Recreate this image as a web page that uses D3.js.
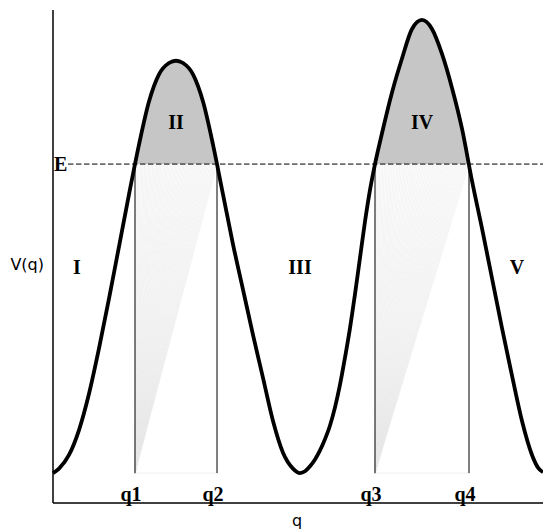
<!DOCTYPE html>
<html>
<head>
<meta charset="utf-8">
<script src="https://cdn.jsdelivr.net/npm/d3@7"></script>
<style>
  body { margin: 0; background: #fff; }
  .roman { font-family: "Liberation Serif", "Times New Roman", serif; font-weight: bold; font-size: 20px; }
  .axis-text { font-family: "DejaVu Sans", sans-serif; font-size: 16px; }
</style>
</head>
<body>
<div class="chart"></div>
<script>
// potential curve (q, V)
var qValues = [0, 0.6, 1.6, 2.6, 3.6, 4.6, 5.6, 6.6, 7.6, 8.6, 9.6, 10.6, 11.6, 12.3,
               13.0, 14.0, 15.0, 16.0, 17.0, 18.0, 19.0, 20.0, 21.0, 22.0, 23.0, 24.0, 24.7,
               25.2, 25.7, 26.2, 26.7, 27.2, 27.7, 28.2, 28.7, 29.2, 29.7, 30.2, 30.7, 31.2, 31.7, 32.2,
               32.9, 33.9, 34.9, 35.9, 36.9,
               37.9, 38.9, 39.9, 40.9, 41.9, 42.9, 43.9, 44.9, 45.9, 46.9, 47.9, 48.5, 49.0];
var vValues = [0, 1.0, 4.0, 9.5, 17.5, 27.5, 38.5, 50.0, 61.5, 72.5, 82.0, 88.0, 90.5, 91.0,
               90.5, 88.0, 82.0, 72.5, 61.5, 50.5, 40.5, 30.5, 21.0, 11.5, 4.5, 1.0, 0,
               0.4, 1.5, 3.0, 5.0, 7.5, 10.5, 14.5, 19.5, 25.5, 32.0, 39.5, 47.5, 55.5, 62.5, 68.2,
               75.0, 84.0, 91.5, 98.0, 100,
               98.0, 92.5, 85.0, 76.0, 64.5, 54.0, 43.0, 32.0, 21.5, 11.5, 4.0, 1.2, 0.2];

// energy level and turning points
var energy = 68.2;
var turnNames = ["q1", "q2", "q3", "q4"];
var turnPoints = [8.2, 16.4, 32.2, 41.6];

// region labels
var regionNames = ["I", "II", "III", "IV", "V"];
var regionQ = [2.4, 12.3, 24.7, 36.9, 46.4];
var regionV = [44, 76, 44, 76, 44];

var data = qValues.map(function(q, i) { return { q: q, v: vValues[i] }; });

var svgWidth = 543, svgHeight = 531;

var x = d3.scaleLinear().domain([0, 49]).range([53, 543]);
var y = d3.scaleLinear().domain([-6.6, 102.2]).range([503, 10]);

var svg = d3.select(".chart").append("svg")
  .attr("width", svgWidth)
  .attr("height", svgHeight);

var lineGen = d3.line()
  .x(d => x(d.q))
  .y(d => y(d.v))
  .curve(d3.curveMonotoneX);

// shaded barrier regions (curve above E)
svg.append("clipPath").attr("id", "aboveE")
  .append("rect")
  .attr("x", 0).attr("y", 0)
  .attr("width", svgWidth).attr("height", y(energy));

var areaGen = d3.area()
  .x(d => x(d.q))
  .y0(y(energy))
  .y1(d => y(d.v))
  .curve(d3.curveMonotoneX);

svg.append("path")
  .datum(data)
  .attr("d", areaGen)
  .attr("clip-path", "url(#aboveE)")
  .attr("fill", "#c6c6c6");

// faint fans below the barriers
[[0, 1], [2, 3]].forEach(function(pair) {
  var qa = turnPoints[pair[0]], qb = turnPoints[pair[1]];
  var steps = d3.range(0, 61).map(i => qa + (qb - qa) * i / 60);
  svg.append("g").selectAll("line")
    .data(steps)
    .enter()
    .append("line")
    .attr("x1", x(qa)).attr("y1", y(0))
    .attr("x2", d => x(d)).attr("y2", y(energy))
    .attr("stroke", "#e8e8e8")
    .attr("stroke-width", 0.5);
  svg.append("line")
    .attr("x1", x(qa)).attr("x2", x(qb))
    .attr("y1", y(0)).attr("y2", y(0))
    .attr("stroke", "#eeeeee")
    .attr("stroke-width", 1);
});

// vertical lines at turning points
svg.append("g").selectAll("line")
  .data(turnPoints)
  .enter()
  .append("line")
  .attr("x1", d => x(d)).attr("x2", d => x(d))
  .attr("y1", y(energy)).attr("y2", y(0))
  .attr("stroke", "#000")
  .attr("stroke-width", 1);

// energy level
svg.append("line")
  .attr("x1", x(0) + 15).attr("x2", 543)
  .attr("y1", y(energy)).attr("y2", y(energy))
  .attr("stroke", "#000")
  .attr("stroke-width", 1)
  .attr("stroke-dasharray", "5.5,2.5");

// potential curve
svg.append("path")
  .datum(data)
  .attr("d", lineGen)
  .attr("fill", "none")
  .attr("stroke", "#000")
  .attr("stroke-width", 3.8)
  .attr("stroke-linejoin", "round");

// axes (plain lines, no ticks)
svg.append("line")
  .attr("x1", 53).attr("x2", 53)
  .attr("y1", 10).attr("y2", 503)
  .attr("stroke", "#000").attr("stroke-width", 1.5);
svg.append("line")
  .attr("x1", 53).attr("x2", 543)
  .attr("y1", 503).attr("y2", 503)
  .attr("stroke", "#000").attr("stroke-width", 1.5);

// labels
svg.append("text")
  .attr("class", "roman")
  .attr("x", 54).attr("y", y(energy) + 7)
  .text("E");

svg.append("g").selectAll("text")
  .data(turnPoints)
  .enter()
  .append("text")
  .attr("class", "roman")
  .attr("x", d => x(d) - 4)
  .attr("y", 501)
  .attr("text-anchor", "middle")
  .text((d, i) => turnNames[i]);

svg.append("g").selectAll("text")
  .data(regionNames)
  .enter()
  .append("text")
  .attr("class", "roman")
  .attr("x", (d, i) => x(regionQ[i]))
  .attr("y", (d, i) => y(regionV[i]))
  .attr("text-anchor", "middle")
  .text(d => d);

svg.append("text")
  .attr("class", "axis-text")
  .attr("x", 44).attr("y", 270)
  .attr("text-anchor", "end")
  .text("V(q)");

svg.append("text")
  .attr("class", "axis-text")
  .attr("x", 297).attr("y", 526)
  .attr("text-anchor", "middle")
  .text("q");
</script>
</body>
</html>
